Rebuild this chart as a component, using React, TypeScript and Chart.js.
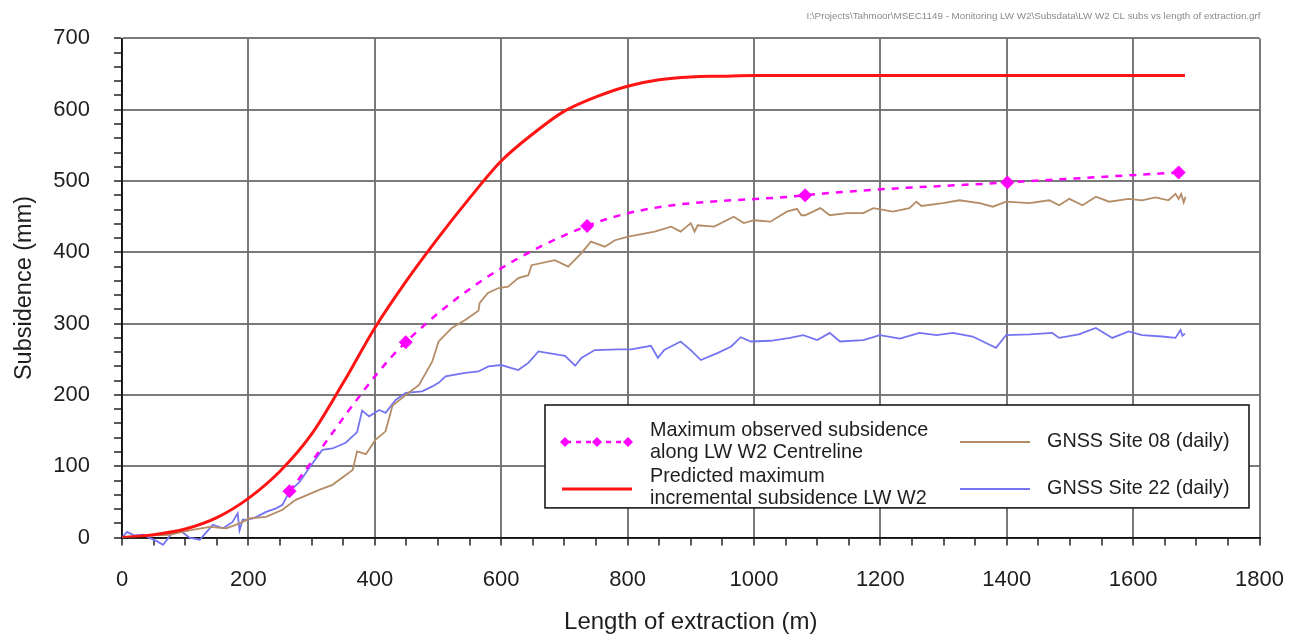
import React, { useEffect, useRef } from 'react';
import { Chart, registerables } from 'chart.js';

Chart.register(...registerables);

// ---------- data ----------
const filePath =
  'I:\\Projects\\Tahmoor\\MSEC1149 - Monitoring LW W2\\Subsdata\\LW W2 CL subs vs length of extraction.grf';

const xAxisTitle = 'Length of extraction (m)';
const yAxisTitle = 'Subsidence (mm)';

const observedLabel = ['Maximum observed subsidence', 'along LW W2 Centreline'];
const predictedLabel = ['Predicted maximum', 'incremental subsidence LW W2'];
const site08Label = 'GNSS Site 08 (daily)';
const site22Label = 'GNSS Site 22 (daily)';

const observedX = [265, 449, 736, 1081, 1401, 1672];
const observedY = [65, 274, 437, 480, 498, 512];

const predictedX = [0, 50, 100, 150, 200, 250, 300, 350, 400, 450, 500, 550, 600, 650, 700, 750, 800, 850, 900, 950, 1000, 1682];
const predictedY = [0, 4, 12, 28, 55, 93, 145, 217, 294, 360, 420, 476, 528, 566, 598, 618, 633, 642, 646, 647, 648, 648];

const site08X = [0, 25, 50, 75, 107, 139, 165, 186, 202, 228, 254, 270, 275, 312, 333, 365, 372, 386, 401, 417, 428, 449, 470, 491, 501, 522, 543, 564, 566, 579, 596, 611, 627, 643, 648, 685, 706, 727, 742, 764, 780, 801, 843, 869, 884, 900, 906, 911, 937, 968, 984, 1000, 1026, 1052, 1068, 1075, 1081, 1105, 1120, 1147, 1173, 1189, 1220, 1246, 1257, 1265, 1299, 1325, 1357, 1378, 1399, 1436, 1467, 1483, 1499, 1520, 1541, 1562, 1593, 1614, 1635, 1656, 1667, 1672, 1676, 1680, 1683];
const site08Y = [0, 2, 3, 4, 10, 15, 13, 20, 27, 29, 39, 50, 53, 67, 74, 95, 121, 117, 137, 149, 185, 200, 214, 247, 275, 294, 305, 318, 329, 343, 350, 352, 364, 368, 382, 389, 380, 399, 415, 408, 417, 422, 429, 436, 429, 441, 429, 438, 436, 450, 441, 445, 443, 457, 461, 452, 452, 462, 452, 455, 455, 462, 457, 462, 471, 465, 469, 473, 469, 464, 471, 469, 473, 466, 475, 466, 478, 471, 475, 473, 477, 473, 482, 475, 482, 470, 478];

const site22X = [0, 8, 20, 33, 43, 55, 65, 79, 92, 107, 123, 134, 144, 160, 175, 183, 186, 191, 197, 207, 213, 228, 244, 254, 265, 281, 302, 317, 333, 354, 372, 380, 391, 407, 417, 433, 449, 475, 491, 501, 512, 543, 564, 580, 600, 627, 643, 659, 701, 717, 727, 748, 785, 806, 837, 848, 858, 884, 900, 916, 943, 964, 979, 995, 1026, 1057, 1078, 1100, 1120, 1136, 1173, 1199, 1231, 1262, 1289, 1315, 1346, 1383, 1399, 1436, 1472, 1483, 1514, 1541, 1567, 1593, 1614, 1646, 1667, 1675, 1678, 1682];
const site22Y = [0, 8, 3, 4, 0, -5, -10, 6, 10, 0, -3, 8, 18, 13, 22, 34, 10, 25, 25, 27, 29, 36, 41, 46, 65, 78, 105, 123, 125, 133, 148, 178, 170, 179, 175, 193, 203, 205, 212, 217, 226, 231, 233, 240, 242, 235, 245, 261, 255, 241, 252, 263, 264, 264, 269, 252, 263, 275, 263, 249, 259, 268, 281, 275, 276, 280, 284, 277, 287, 275, 277, 284, 279, 287, 284, 287, 282, 266, 284, 285, 287, 280, 285, 294, 280, 289, 284, 282, 280, 291, 283, 286];

const xMin = 0;
const xMax = 1800;
const yMin = 0;
const yMax = 700;

const pts = (xs: number[], ys: number[]) => xs.map((x, i) => ({ x, y: ys[i] }));

// ---------- styles ----------
const MAGENTA = '#ff00ff';
const RED = '#ff1414';
const BROWN = '#b48c66';
const BLUE = '#7474f2';
const GRID = 'rgba(115,115,115,0.95)';
const TXT = '#1e1e1e';
const FONT = "'Liberation Sans', Arial, sans-serif";

const overlayPlugin = {
  id: 'overlay',
  afterDatasetsDraw(chart: any) {
    const ctx = chart.ctx as CanvasRenderingContext2D;
    const ca = chart.chartArea;
    const ds = chart.data.datasets;
    ctx.save();

    // legend box
    const bx0 = ca.left + 423;
    const by0 = ca.top + 366.6;
    const bx1 = ca.left + 1127;
    const by1 = ca.top + 469.5;
    ctx.fillStyle = '#ffffff';
    ctx.fillRect(bx0, by0, bx1 - bx0, by1 - by0);
    ctx.strokeStyle = '#1a1a1a';
    ctx.lineWidth = 1.6;
    ctx.strokeRect(bx0, by0, bx1 - bx0, by1 - by0);

    ctx.font = `19.8px ${FONT}`;
    ctx.fillStyle = TXT;
    ctx.textBaseline = 'middle';
    ctx.textAlign = 'left';

    const drawLineSym = (x0: number, x1: number, y: number, d: any) => {
      ctx.save();
      ctx.strokeStyle = d.borderColor;
      ctx.lineWidth = d.borderWidth;
      ctx.setLineDash(d.borderDash || []);
      ctx.beginPath();
      ctx.moveTo(x0, y);
      ctx.lineTo(x1, y);
      ctx.stroke();
      ctx.restore();
    };
    const diamond = (x: number, y: number, r: number, c: string) => {
      ctx.save();
      ctx.fillStyle = c;
      ctx.beginPath();
      ctx.moveTo(x - r, y);
      ctx.lineTo(x, y - r);
      ctx.lineTo(x + r, y);
      ctx.lineTo(x, y + r);
      ctx.closePath();
      ctx.fill();
      ctx.restore();
    };

    const symX0 = bx0 + 17;
    const symX1 = bx0 + 87;
    const txtX = bx0 + 105;
    // row 1: observed
    const r1 = by0 + 37;
    drawLineSym(symX0 + 4, symX1 - 4, r1, { ...ds[0], borderDash: [5, 5] });
    [symX0 + 3, symX0 + 35, symX1 - 4].forEach((x) => diamond(x, r1, 5, MAGENTA));
    ctx.fillText(observedLabel[0], txtX, r1 - 11);
    ctx.fillText(observedLabel[1], txtX, r1 + 11);
    // row 2: predicted
    const r2 = by0 + 84;
    drawLineSym(symX0, symX1, r2, ds[1]);
    ctx.fillText(predictedLabel[0], txtX, r2 - 12);
    ctx.fillText(predictedLabel[1], txtX, r2 + 10);
    // column 2
    const c2x0 = bx0 + 415;
    const c2x1 = bx0 + 485;
    const c2t = bx0 + 502;
    drawLineSym(c2x0, c2x1, r1, ds[2]);
    ctx.fillText(site08Label, c2t, r1);
    drawLineSym(c2x0, c2x1, r2, ds[3]);
    ctx.fillText(site22Label, c2t, r2);

    // file path text, top right
    ctx.fillStyle = '#8a8a8a';
    ctx.textAlign = 'right';
    let fs = 11;
    ctx.font = `${fs}px ${FONT}`;
    const w = ctx.measureText(filePath).width;
    fs = (fs * 455) / w;
    ctx.font = `${fs}px ${FONT}`;
    ctx.fillText(filePath, ca.right + 1, 16);
    ctx.restore();
  },
};

export default function App() {
  const ref = useRef<HTMLCanvasElement | null>(null);

  useEffect(() => {
    if (!ref.current) return;
    const chart = new Chart(ref.current, {
      type: 'line',
      data: {
        datasets: [
          {
            label: observedLabel.join(' '),
            data: pts(observedX, observedY),
            borderColor: MAGENTA,
            backgroundColor: MAGENTA,
            borderWidth: 2.5,
            borderDash: [7, 7],
            pointStyle: 'rectRot',
            pointRadius: 6.5,
            pointBorderWidth: 1,
            pointBorderColor: MAGENTA,
            pointBackgroundColor: MAGENTA,
            cubicInterpolationMode: 'monotone',
          },
          {
            label: predictedLabel.join(' '),
            data: pts(predictedX, predictedY),
            borderColor: RED,
            backgroundColor: RED,
            borderWidth: 3,
            pointRadius: 0,
            cubicInterpolationMode: 'monotone',
          },
          {
            label: site08Label,
            data: pts(site08X, site08Y),
            borderColor: BROWN,
            backgroundColor: BROWN,
            borderWidth: 1.8,
            pointRadius: 0,
            tension: 0,
          },
          {
            label: site22Label,
            data: pts(site22X, site22Y),
            borderColor: BLUE,
            backgroundColor: BLUE,
            borderWidth: 1.8,
            pointRadius: 0,
            tension: 0,
            clip: { left: 0, top: 0, right: 0, bottom: 14 } as any,
          },
        ],
      },
      options: {
        animation: false,
        responsive: false,
        events: [],
        layout: { padding: { top: 38.4, right: 40.3, left: 0, bottom: 0 } },
        plugins: {
          legend: { display: false },
          tooltip: { enabled: false },
          title: { display: false },
        },
        scales: {
          x: {
            type: 'linear',
            min: xMin,
            max: xMax,
            afterFit: (s: any) => {
              s.height = 105.4;
            },
            ticks: {
              stepSize: 50,
              autoSkip: false,
              maxRotation: 0,
              padding: 21,
              color: TXT,
              font: { family: FONT, size: 22 },
              callback: (v: any) => (Number(v) % 200 === 0 ? String(v) : ''),
            },
            grid: {
              color: (c: any) => (c.tick && c.tick.value % 200 === 0 ? GRID : 'rgba(0,0,0,0)'),
              lineWidth: 2,
              tickColor: '#222',
              tickLength: 8,
              tickWidth: 1.5,
            },
            border: { display: true, color: '#111', width: 1.8 },
            title: {
              display: true,
              text: xAxisTitle,
              color: TXT,
              font: { family: FONT, size: 24 },
              padding: { top: 0, bottom: 6 },
            },
          },
          y: {
            type: 'linear',
            min: yMin,
            max: yMax,
            afterFit: (s: any) => {
              s.width = 122;
            },
            ticks: {
              stepSize: 20,
              autoSkip: false,
              padding: 24,
              color: TXT,
              font: { family: FONT, size: 22 },
              callback: (v: any) => (Number(v) % 100 === 0 ? String(v) : ''),
            },
            grid: {
              color: (c: any) => (c.tick && c.tick.value % 100 === 0 ? GRID : 'rgba(0,0,0,0)'),
              lineWidth: 2,
              tickColor: '#222',
              tickLength: 8,
              tickWidth: 1.5,
            },
            border: { display: true, color: '#111', width: 1.8 },
            title: {
              display: true,
              text: yAxisTitle,
              color: TXT,
              font: { family: FONT, size: 23.5 },
              padding: { top: 10, bottom: 0 },
            },
          },
        },
      },
      plugins: [overlayPlugin],
    } as any);
    return () => chart.destroy();
  }, []);

  return (
    <div style={{ position: 'fixed', left: 0, top: 0, width: 1305, height: 643, background: '#fff' }}>
      <canvas ref={ref} width={1305} height={643} style={{ display: 'block' }} />
    </div>
  );
}
